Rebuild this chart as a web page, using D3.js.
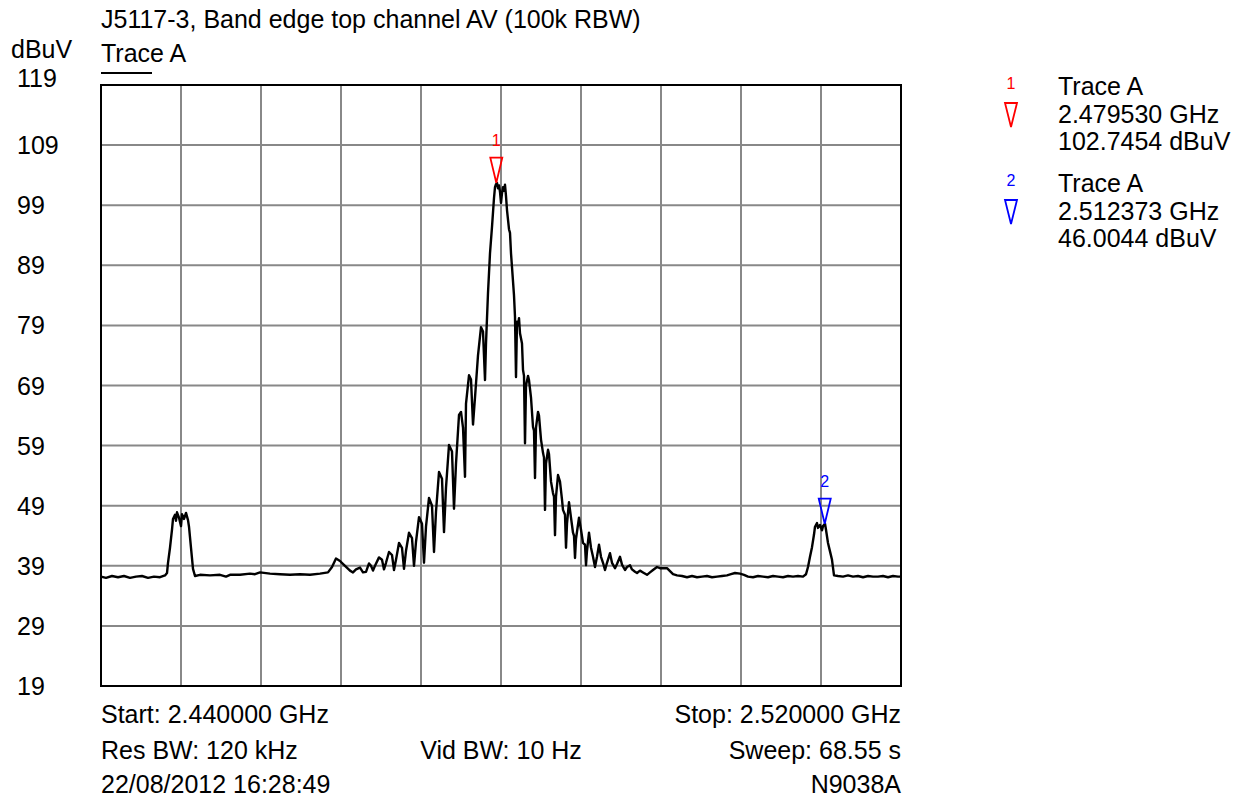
<!DOCTYPE html>
<html>
<head>
<meta charset="utf-8">
<script src="https://cdn.jsdelivr.net/npm/d3@7"></script>
<style>
  body { margin: 0; background: #fff; }
  text { font-family: "Liberation Sans", Arial, sans-serif; }
</style>
</head>
<body>
<div id="chart"></div>
<script>
// trace A, frequency in MHz and level in dBuV
var freqMHz = [
  2440.0, 2440.5, 2441.1, 2441.7, 2442.3, 2442.9, 2443.5, 2444.1, 2444.7, 2445.3,
  2445.9, 2446.4, 2446.6, 2446.7, 2446.9, 2447.1, 2447.2, 2447.4, 2447.5, 2447.6,
  2447.8, 2448.0, 2448.1, 2448.3, 2448.5, 2448.7, 2448.8, 2449.0, 2449.2, 2449.4,
  2449.9, 2450.9, 2451.9, 2452.5, 2452.9, 2453.9, 2454.9, 2455.4, 2455.9, 2456.9,
  2457.9, 2458.9, 2459.9, 2460.9, 2461.9, 2462.7, 2463.1, 2463.5, 2463.9, 2464.4,
  2464.9, 2465.2, 2465.5, 2465.9, 2466.2, 2466.5, 2466.8, 2467.0, 2467.2, 2467.4,
  2467.8, 2468.1, 2468.3, 2468.5, 2468.8, 2469.1, 2469.3, 2469.5, 2469.8, 2470.1,
  2470.3, 2470.5, 2470.8, 2471.1, 2471.3, 2471.5, 2471.8, 2472.1, 2472.3, 2472.5,
  2472.8, 2473.1, 2473.3, 2473.5, 2473.8, 2474.1, 2474.3, 2474.5, 2474.8, 2475.1,
  2475.3, 2475.5, 2475.8, 2476.0, 2476.2, 2476.4, 2476.5, 2476.8, 2477.0, 2477.2,
  2477.4, 2477.7, 2478.0, 2478.2, 2478.4, 2478.5, 2478.7, 2478.9, 2479.1, 2479.3,
  2479.4, 2479.5, 2479.6, 2479.7, 2479.8, 2479.9, 2480.0, 2480.1, 2480.2, 2480.3,
  2480.4, 2480.5, 2480.6, 2480.8, 2480.9, 2481.0, 2481.1, 2481.3, 2481.4, 2481.5,
  2481.6, 2481.7, 2481.8, 2481.9, 2482.1, 2482.2, 2482.3, 2482.4, 2482.5, 2482.7,
  2482.8, 2483.0, 2483.2, 2483.3, 2483.4, 2483.5, 2483.7, 2483.8, 2484.0, 2484.2,
  2484.3, 2484.4, 2484.5, 2484.7, 2484.8, 2485.0, 2485.2, 2485.3, 2485.4, 2485.5,
  2485.7, 2485.9, 2486.1, 2486.2, 2486.4, 2486.5, 2486.6, 2486.8, 2487.0, 2487.2,
  2487.3, 2487.4, 2487.5, 2487.8, 2488.0, 2488.2, 2488.4, 2488.5, 2488.6, 2488.8,
  2489.0, 2489.2, 2489.4, 2489.6, 2489.8, 2490.0, 2490.2, 2490.4, 2490.6, 2490.9,
  2491.1, 2491.4, 2491.6, 2491.9, 2492.1, 2492.4, 2492.6, 2492.9, 2493.1, 2493.4,
  2493.6, 2493.9, 2494.2, 2494.6, 2494.9, 2495.2, 2495.6, 2495.9, 2496.3, 2496.6,
  2496.9, 2497.2, 2497.6, 2498.1, 2498.6, 2499.1, 2499.6, 2500.1, 2500.6, 2501.1,
  2501.6, 2502.1, 2502.6, 2503.0, 2503.4, 2503.9, 2504.3, 2504.7, 2505.2, 2505.7,
  2506.2, 2506.7, 2507.2, 2507.7, 2508.2, 2508.7, 2509.2, 2509.7, 2510.2, 2510.5,
  2510.7, 2510.9, 2511.1, 2511.3, 2511.4, 2511.6, 2511.7, 2511.9, 2512.1, 2512.2,
  2512.4, 2512.5, 2512.7, 2512.9, 2513.1, 2513.3, 2513.7, 2514.2, 2514.7, 2515.2,
  2515.7, 2516.2, 2516.7, 2517.2, 2517.7, 2518.2, 2518.7, 2519.2, 2519.7, 2520.0
];
var levelDbuv = [
  37.2, 37.0, 37.3, 37.1, 37.3, 37.0, 37.2, 37.3, 37.0, 37.2,
  37.1, 37.4, 37.8, 39.5, 42.0, 45.0, 46.8, 47.5, 46.5, 47.9,
  47.0, 45.6, 47.6, 46.8, 47.8, 46.6, 45.5, 42.0, 38.5, 37.3,
  37.5, 37.4, 37.5, 37.2, 37.5, 37.5, 37.7, 37.6, 37.9, 37.7,
  37.6, 37.5, 37.6, 37.5, 37.7, 37.9, 38.8, 40.2, 39.8, 39.0,
  38.2, 37.9, 38.4, 38.7, 37.9, 38.0, 39.4, 39.0, 38.2, 39.0,
  40.4, 40.0, 38.4, 39.5, 41.3, 40.8, 38.3, 40.0, 42.8, 42.0,
  38.5, 41.5, 44.5, 43.6, 39.0, 43.0, 47.1, 46.0, 39.5, 45.5,
  50.3, 49.0, 41.3, 48.0, 54.6, 53.5, 44.6, 52.0, 59.1, 58.0,
  48.5, 56.0, 64.1, 64.6, 62.0, 53.8, 66.0, 70.7, 70.0, 62.5,
  67.0, 74.0, 78.7, 78.0, 69.9, 76.0, 84.4, 91.0, 95.4, 100.2,
  102.0, 102.5, 102.7, 101.8, 102.3, 101.2, 99.4, 101.0, 102.0, 101.4,
  102.4, 100.5, 98.2, 95.0, 94.4, 91.0, 88.7, 84.0, 80.4, 70.4,
  79.6, 79.0, 80.2, 77.7, 76.0, 71.6, 70.6, 59.4, 69.0, 70.6,
  69.9, 67.0, 62.1, 61.5, 53.6, 62.0, 64.6, 64.0, 60.0, 57.8,
  57.0, 48.3, 56.0, 58.3, 57.6, 53.0, 51.1, 50.5, 44.1, 50.5,
  54.1, 53.0, 50.0, 48.3, 47.5, 42.0, 46.0, 49.6, 47.0, 44.5,
  44.0, 40.3, 43.5, 47.0, 45.0, 42.8, 42.5, 39.1, 41.5, 44.5,
  42.0, 40.5, 38.8, 40.5, 42.5, 40.5, 39.5, 38.3, 39.5, 41.1,
  39.5, 38.6, 39.3, 40.5, 39.2, 38.3, 38.8, 39.1, 38.4, 38.0,
  37.8, 38.2, 37.9, 37.5, 37.9, 38.3, 38.8, 38.6, 38.6, 38.6,
  38.1, 37.6, 37.4, 37.3, 37.1, 37.3, 37.1, 37.2, 37.3, 37.1,
  37.2, 37.3, 37.4, 37.6, 37.8, 37.7, 37.5, 37.2, 37.1, 37.3,
  37.2, 37.1, 37.3, 37.2, 37.1, 37.3, 37.2, 37.3, 37.2, 37.6,
  38.8, 40.5, 42.1, 44.2, 45.5, 46.1, 45.3, 45.8, 44.9, 45.6,
  46.0, 45.0, 42.8, 41.4, 40.0, 37.4, 37.3, 37.2, 37.4, 37.2,
  37.3, 37.1, 37.3, 37.2, 37.2, 37.3, 37.1, 37.3, 37.2, 37.2
];

// markers
var markerNames = ['1', '2'];
var markerFreqGHz = [2.479530, 2.512373];
var markerLevel = [102.7454, 46.0044];

// axes
var yTicks = [19, 29, 39, 49, 59, 69, 79, 89, 99, 109, 119];
var xGridMHz = [2440, 2448, 2456, 2464, 2472, 2480, 2488, 2496, 2504, 2512, 2520];

var titleText = 'J5117-3, Band edge top channel AV (100k RBW)';
var infoLeft = ['Start: 2.440000 GHz', 'Res BW: 120 kHz', '22/08/2012 16:28:49'];
var infoMid = ['', 'Vid BW: 10 Hz', ''];
var infoRight = ['Stop: 2.520000 GHz', 'Sweep: 68.55 s', 'N9038A'];

var markerColor = ['#ff0000', '#0000ff'];

var W = 1247, H = 803;
var margin = {top: 85, left: 101, right: 346, bottom: 117};
var width = W - margin.left - margin.right,
    height = H - margin.top - margin.bottom;
var fontSize = 25;

var svg = d3.select('#chart').append('svg')
    .attr('width', W)
    .attr('height', H);

var x = d3.scaleLinear().domain([2440, 2520]).range([margin.left, margin.left + width]);
var y = d3.scaleLinear().domain([19, 119]).range([margin.top + height, margin.top]);

// grid
svg.append('g').selectAll('line.v')
    .data(xGridMHz)
    .enter().append('line')
    .attr('x1', function(d){ return x(d); })
    .attr('x2', function(d){ return x(d); })
    .attr('y1', margin.top)
    .attr('y2', margin.top + height)
    .attr('stroke', '#888')
    .attr('stroke-width', 2);

svg.append('g').selectAll('line.h')
    .data(yTicks)
    .enter().append('line')
    .attr('x1', margin.left)
    .attr('x2', margin.left + width)
    .attr('y1', function(d){ return y(d); })
    .attr('y2', function(d){ return y(d); })
    .attr('stroke', '#888')
    .attr('stroke-width', 2);

// frame
svg.append('rect')
    .attr('x', margin.left)
    .attr('y', margin.top)
    .attr('width', width)
    .attr('height', height)
    .attr('fill', 'none')
    .attr('stroke', '#000')
    .attr('stroke-width', 2);

// y labels
svg.append('g').selectAll('text')
    .data(yTicks)
    .enter().append('text')
    .attr('x', 17)
    .attr('y', function(d){ return y(d) + (d === yTicks[yTicks.length - 1] ? 2 : 9); })
    .style('font-size', fontSize + 'px')
    .text(function(d){ return d; });

// trace
var traceData = freqMHz.map(function(f, i){ return [f, levelDbuv[i]]; });
var line = d3.line()
    .x(function(d){ return x(d[0]); })
    .y(function(d){ return y(d[1]); });

svg.append('path')
    .datum(traceData)
    .attr('d', line)
    .attr('fill', 'none')
    .attr('stroke', '#000')
    .attr('stroke-width', 2.4)
    .attr('stroke-linejoin', 'round');

function triangle(cx, tipY, w, h){
  return 'M' + cx + ',' + tipY + 'L' + (cx - w/2) + ',' + (tipY - h) + 'L' + (cx + w/2) + ',' + (tipY - h) + 'Z';
}

// markers on the trace
markerNames.forEach(function(name, i){
  var mx = x(markerFreqGHz[i] * 1000), my = y(markerLevel[i]);
  svg.append('path')
    .attr('d', triangle(mx, my, 12, 25))
    .attr('fill', 'none')
    .attr('stroke', markerColor[i])
    .attr('stroke-width', 1.8);
  svg.append('text')
    .attr('x', mx)
    .attr('y', my - 37)
    .attr('text-anchor', 'middle')
    .attr('fill', markerColor[i])
    .style('font-size', '16px')
    .text(name);
});

// marker table on the right
markerNames.forEach(function(name, i){
  var top = 95 + i * 97;
  svg.append('text')
    .attr('x', 1011)
    .attr('y', top - 6)
    .attr('text-anchor', 'middle')
    .attr('fill', markerColor[i])
    .style('font-size', '16px')
    .text(name);
  svg.append('path')
    .attr('d', triangle(1011, top + 32, 12, 24))
    .attr('fill', 'none')
    .attr('stroke', markerColor[i])
    .attr('stroke-width', 1.8);
  var lines = ['Trace A',
               markerFreqGHz[i].toFixed(6) + ' GHz',
               markerLevel[i].toFixed(4) + ' dBuV'];
  svg.append('g').selectAll('text')
    .data(lines)
    .enter().append('text')
    .attr('x', 1058)
    .attr('y', function(d, j){ return top + j * 27.5; })
    .style('font-size', fontSize + 'px')
    .text(function(d){ return d; });
});

// header
svg.append('text')
    .attr('x', margin.left)
    .attr('y', 28)
    .style('font-size', fontSize + 'px')
    .text(titleText);

svg.append('text')
    .attr('x', 11)
    .attr('y', 58)
    .style('font-size', fontSize + 'px')
    .text('dBuV');

svg.append('text')
    .attr('x', margin.left)
    .attr('y', 62)
    .style('font-size', fontSize + 'px')
    .text('Trace A');

svg.append('line')
    .attr('x1', margin.left)
    .attr('x2', margin.left + 51)
    .attr('y1', 73)
    .attr('y2', 73)
    .attr('stroke', '#000')
    .attr('stroke-width', 2);

// footer
var rowY = [723, 759, 793];
function footer(list, xpos, anchor){
  svg.append('g').selectAll('text')
    .data(list)
    .enter().append('text')
    .attr('x', xpos)
    .attr('y', function(d, i){ return rowY[i]; })
    .attr('text-anchor', anchor)
    .style('font-size', fontSize + 'px')
    .text(function(d){ return d; });
}
footer(infoLeft, margin.left, 'start');
footer(infoMid, margin.left + width / 2, 'middle');
footer(infoRight, margin.left + width, 'end');
</script>
</body>
</html>
